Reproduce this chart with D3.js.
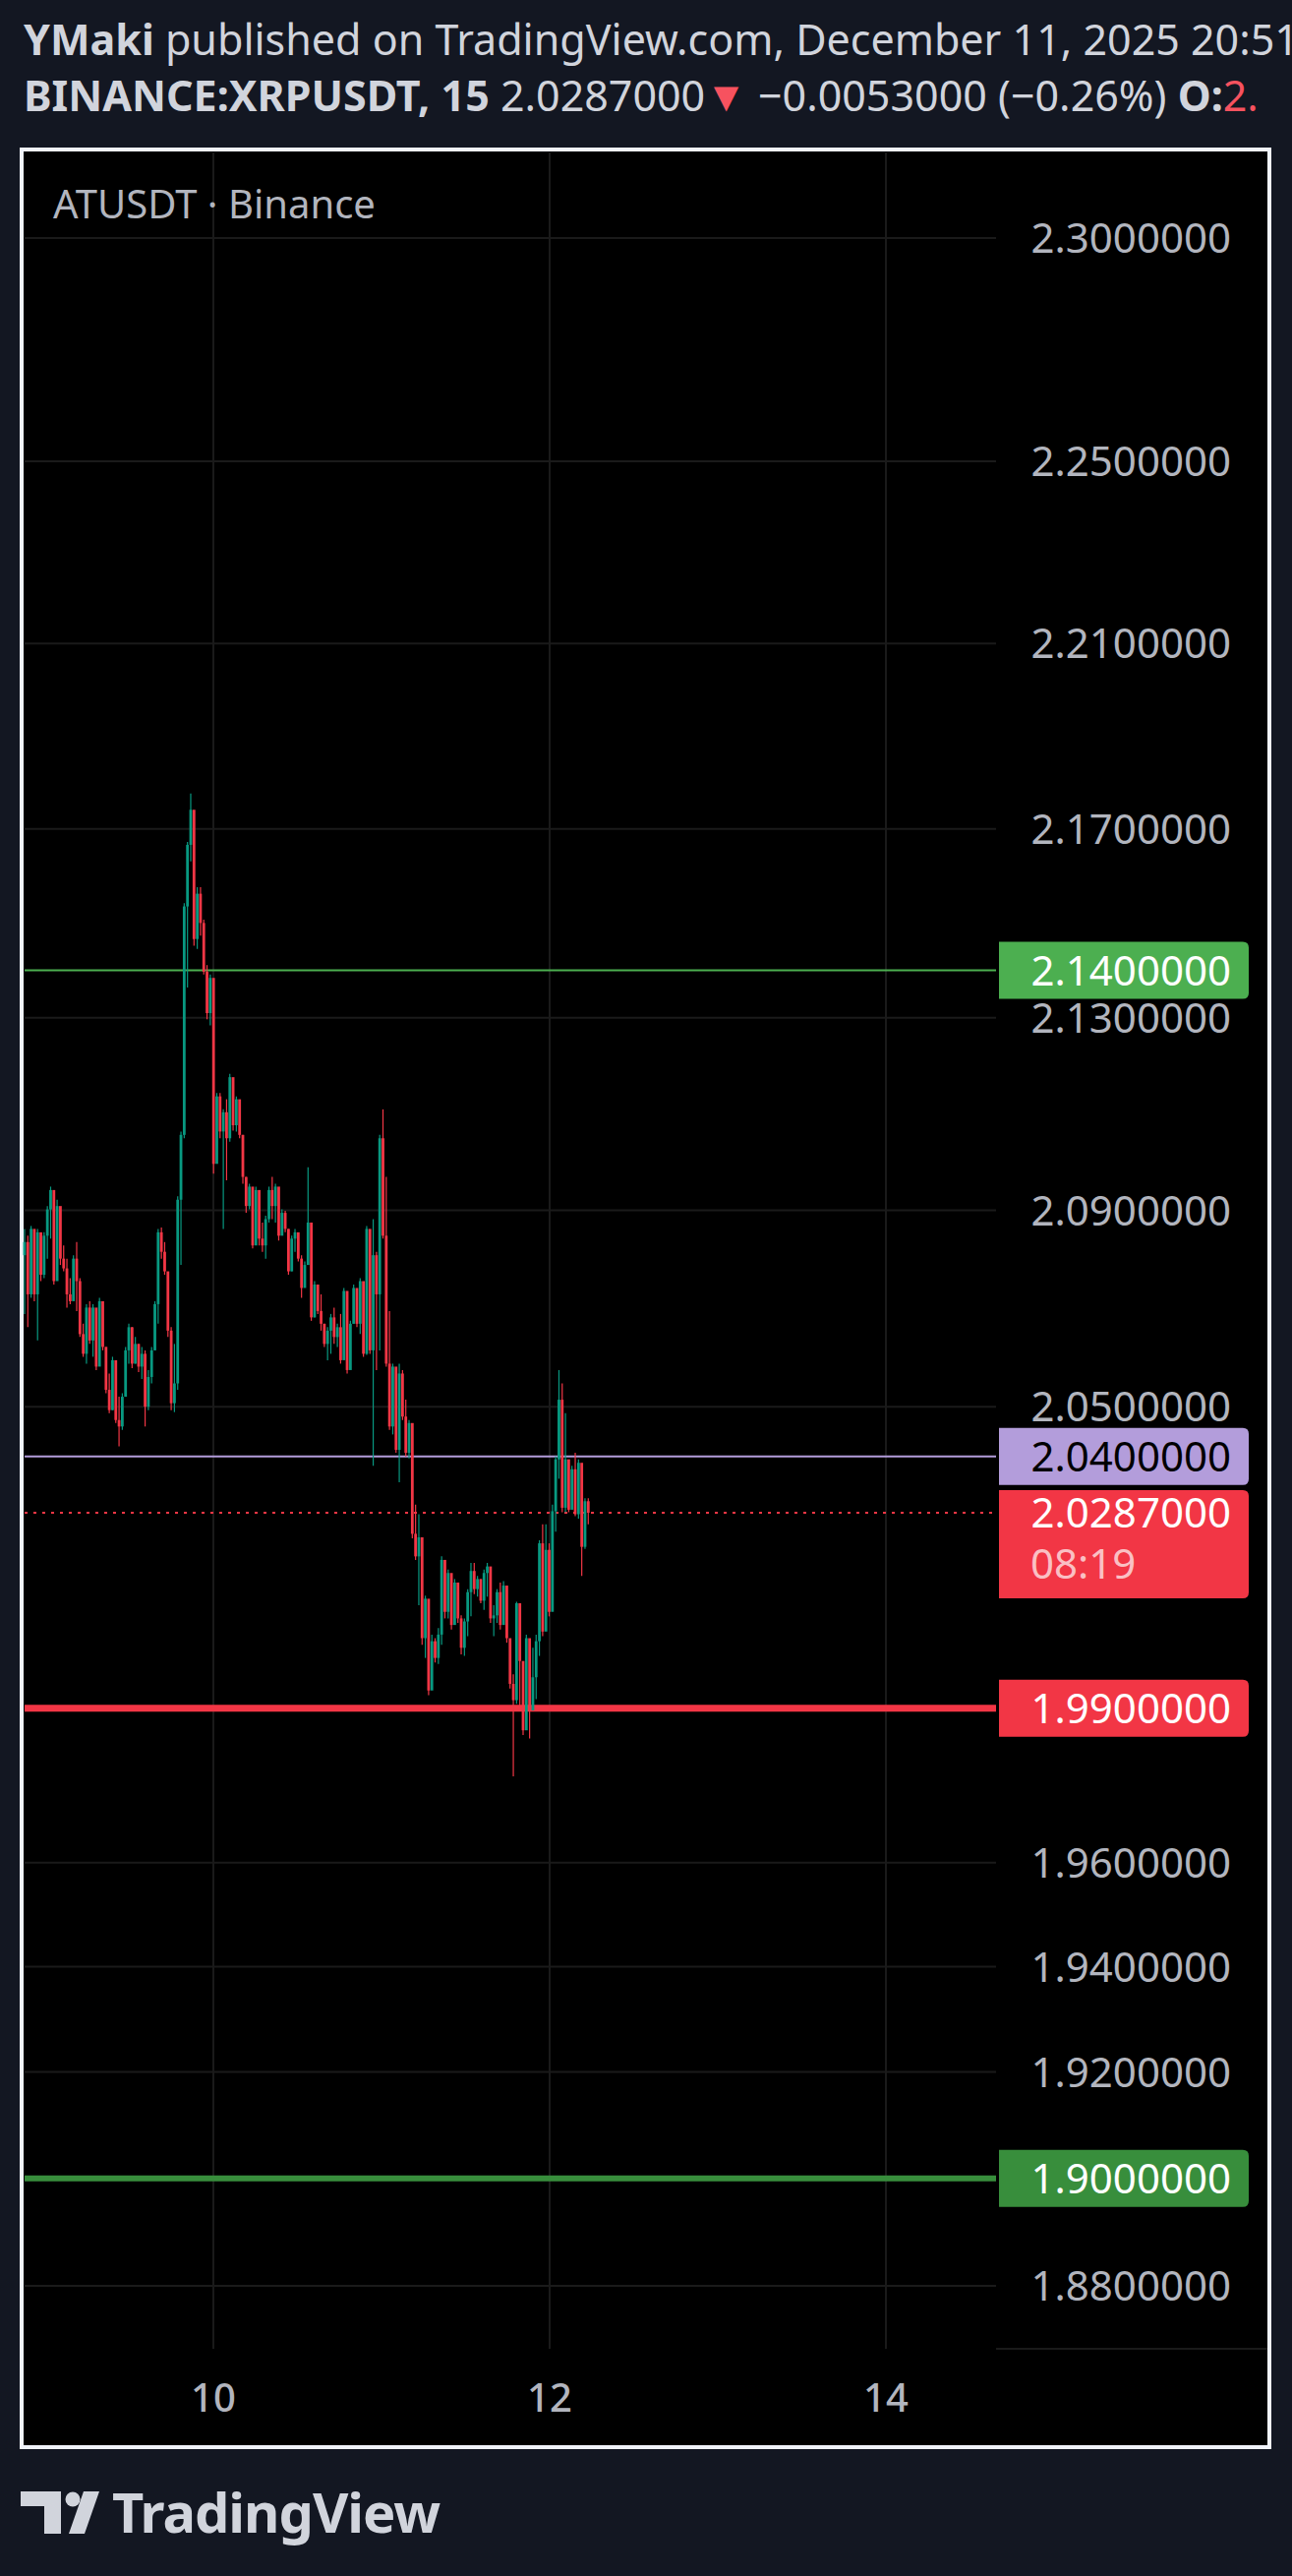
<!DOCTYPE html>
<html>
<head>
<meta charset="utf-8">
<script src="https://cdn.jsdelivr.net/npm/d3@7"></script>
<style>
body{margin:0;background:#131722;}
svg{display:block;font-family:"Noto Sans",sans-serif;}
</style>
</head>
<body>
<svg id="chart" width="1314" height="2619"></svg>
<script>
// 30-min-ish candles, open = previous close
var firstOpen=2.0808
var closes=[2.0835,2.0728,2.0862,2.0728,2.0855,2.0768,2.0848,2.0902,2.0942,2.0755,2.0909,2.0801,2.0781,2.0728,2.0714,2.0801,2.0755,2.0647,2.0607,2.0701,
2.0634,2.0701,2.0581,2.0714,2.0621,2.0534,2.0493,2.0594,2.0473,2.0460,2.0520,2.0614,2.0661,2.0587,2.0627,2.0581,2.0607,2.0500,2.0560,2.0614,
2.0708,2.0855,2.0815,2.0775,2.0654,2.0507,2.0547,2.0922,2.1056,2.1535,2.1666,2.1741,2.1466,2.1562,2.1500,2.1397,2.1310,2.1384,2.0996,2.1136,
2.1063,2.1103,2.1049,2.1176,2.1076,2.1130,2.1056,2.0969,2.0909,2.0949,2.0828,2.0942,2.0842,2.0828,2.0882,2.0942,2.0909,2.0949,2.0848,2.0895,
2.0862,2.0775,2.0842,2.0855,2.0801,2.0741,2.0788,2.0875,2.0681,2.0748,2.0694,2.0668,2.0627,2.0654,2.0681,2.0641,2.0661,2.0594,2.0735,2.0574,
2.0668,2.0741,2.0668,2.0755,2.0607,2.0862,2.0614,2.0808,2.0728,2.1049,2.0848,2.0587,2.0460,2.0581,2.0413,2.0567,2.0480,2.0407,2.0467,2.0245,
2.0200,2.0238,2.0038,2.0116,1.9935,2.0032,1.9999,2.0045,2.0193,2.0090,2.0167,2.0064,2.0148,2.0077,2.0019,2.0071,2.0129,2.0171,2.0135,2.0155,
2.0112,2.0167,2.0180,2.0077,2.0083,2.0129,2.0064,2.0142,2.0038,1.9948,1.9916,2.0107,1.9993,1.9857,2.0038,1.9896,1.9961,2.0032,2.0226,2.0051,
2.0213,2.0090,2.0290,2.0394,2.0514,2.0297,2.0394,2.0293,2.0374,2.0284,2.0387,2.0219,2.0310,2.0287]
var highs=[2.0862,2.0848,2.0868,2.0828,2.0862,2.0815,2.0855,2.0909,2.0949,2.0929,2.0922,2.0902,2.0828,2.0801,2.0761,2.0808,2.0835,2.0761,2.0668,2.0708,
2.0714,2.0708,2.0654,2.0721,2.0681,2.0621,2.0567,2.0601,2.0594,2.0520,2.0527,2.0621,2.0668,2.0661,2.0641,2.0627,2.0621,2.0614,2.0574,2.0621,
2.0714,2.0862,2.0865,2.0835,2.0761,2.0661,2.0627,2.0929,2.1063,2.1542,2.1672,2.1776,2.1734,2.1576,2.1576,2.1507,2.1411,2.1391,2.1310,2.1143,
2.1143,2.1109,2.1130,2.1183,2.1143,2.1136,2.1109,2.1056,2.0969,2.0955,2.0942,2.0949,2.0889,2.0875,2.0889,2.0949,2.0969,2.0955,2.0922,2.0902,
2.0899,2.0862,2.0848,2.0862,2.0848,2.0808,2.0795,2.0989,2.0875,2.0755,2.0741,2.0728,2.0668,2.0661,2.0688,2.0701,2.0668,2.0688,2.0741,2.0714,
2.0674,2.0748,2.0728,2.0761,2.0688,2.0868,2.0768,2.0882,2.0815,2.1056,2.1109,2.0969,2.0694,2.0587,2.0560,2.0587,2.0574,2.0514,2.0473,2.0433,
2.0303,2.0284,2.0148,2.0122,2.0064,2.0045,2.0038,2.0058,2.0200,2.0148,2.0174,2.0155,2.0155,2.0148,2.0083,2.0077,2.0135,2.0187,2.0187,2.0161,
2.0155,2.0174,2.0187,2.0129,2.0103,2.0135,2.0148,2.0151,2.0103,2.0032,1.9967,2.0110,2.0019,1.9928,2.0045,1.9967,2.0019,2.0045,2.0232,2.0264,
2.0264,2.0226,2.0303,2.0400,2.0574,2.0547,2.0487,2.0355,2.0381,2.0407,2.0394,2.0335,2.0316,2.0316]
var lows=[2.0688,2.0661,2.0721,2.0714,2.0634,2.0755,2.0761,2.0801,2.0842,2.0748,2.0828,2.0788,2.0775,2.0701,2.0708,2.0721,2.0694,2.0641,2.0601,2.0587,
2.0627,2.0601,2.0574,2.0641,2.0614,2.0527,2.0487,2.0493,2.0467,2.0420,2.0453,2.0520,2.0587,2.0578,2.0587,2.0570,2.0556,2.0460,2.0493,2.0547,
2.0614,2.0668,2.0801,2.0768,2.0641,2.0493,2.0489,2.0534,2.0788,2.1049,2.1364,2.1631,2.1452,2.1445,2.1473,2.1391,2.1297,2.1284,2.0976,2.1029,
2.1049,2.0862,2.0962,2.1042,2.1065,2.1063,2.1049,2.0955,2.0895,2.0902,2.0822,2.0875,2.0828,2.0815,2.0801,2.0875,2.0882,2.0875,2.0838,2.0855,
2.0855,2.0768,2.0775,2.0815,2.0795,2.0721,2.0748,2.0862,2.0674,2.0681,2.0688,2.0654,2.0621,2.0594,2.0607,2.0627,2.0621,2.0587,2.0627,2.0567,
2.0634,2.0668,2.0661,2.0647,2.0601,2.0605,2.0607,2.0381,2.0574,2.0614,2.0842,2.0581,2.0453,2.0444,2.0407,2.0348,2.0473,2.0400,2.0396,2.0236,
2.0193,2.0103,2.0025,1.9999,1.9926,1.9948,1.9990,1.9987,2.0025,2.0077,2.0077,2.0055,2.0090,2.0068,2.0006,2.0003,2.0042,2.0081,2.0125,2.0120,
2.0107,2.0094,2.0120,2.0068,2.0042,2.0068,2.0055,2.0068,2.0029,1.9939,1.9767,1.9909,1.9900,1.9848,1.9887,1.9841,1.9909,1.9918,2.0003,2.0042,
2.0081,2.0081,2.0193,2.0249,2.0355,2.0288,2.0288,2.0288,2.0316,2.0280,2.0275,2.0161,2.0215,2.0264]
var startDay=8.877, stepDay=0.01938
var priceTicks=[2.30,2.25,2.21,2.17,2.13,2.09,2.05,1.96,1.94,1.92,1.88]
var dayTicks=[10,12,14]
var levels=[
  {p:2.14,color:"#4caf50",w:2,text:"#ffffff"},
  {p:2.04,color:"#b39ddb",w:2,text:"#000000"},
  {p:1.99,color:"#f23645",w:7,text:"#ffffff"},
  {p:1.90,color:"#388e3c",w:6,text:"#ffffff"}
]
var lastPrice=2.0287, countdown="08:19"

var svg=d3.select("#chart")
var plotLeft=25,plotRight=1013,plotTop=155,plotBottom=2388
var x=d3.scaleLinear().domain([10,12]).range([217,559])
var y=d3.scaleLog().domain([2.30,1.88]).range([242,2324])

// header
var h1=svg.append("text").attr("x",24).attr("y",56).attr("font-size",43).attr("fill","#d1d4dc")
h1.append("tspan").attr("font-weight","bold").text("YMaki")
h1.append("tspan").text(" published on TradingView.com, December 11, 2025 20:51:")
var h2=svg.append("text").attr("x",24).attr("y",113).attr("font-size",43).attr("fill","#d1d4dc")
h2.append("tspan").attr("font-weight","bold").text("BINANCE:XRPUSDT, 15 ")
h2.append("tspan").text(" 2.0287000")
h2.append("tspan").attr("fill","#f7525f").text("▼")
h2.append("tspan").text(" −0.0053000 (−0.26%) ")
h2.append("tspan").attr("font-weight","bold").text("O:")
h2.append("tspan").attr("fill","#f7525f").text("2.")

// frame
svg.append("rect").attr("x",22).attr("y",152).attr("width",1269).attr("height",2336)
  .attr("fill","#000").attr("stroke","#f0f3fa").attr("stroke-width",4)

// grid
svg.selectAll(".hg").data(priceTicks).enter().append("line")
  .attr("x1",plotLeft).attr("x2",plotRight).attr("y1",function(d){return y(d)}).attr("y2",function(d){return y(d)})
  .attr("stroke","#1a1a1a").attr("stroke-width",2)
svg.selectAll(".vg").data(dayTicks).enter().append("line")
  .attr("x1",function(d){return x(d)}).attr("x2",function(d){return x(d)}).attr("y1",plotTop).attr("y2",plotBottom)
  .attr("stroke","#1a1a1a").attr("stroke-width",2)
svg.append("line").attr("x1",plotRight).attr("x2",1289).attr("y1",plotBottom).attr("y2",plotBottom).attr("stroke","#1a1a1a").attr("stroke-width",2)

// axes labels
svg.selectAll(".pt").data(priceTicks).enter().append("text")
  .attr("x",1252).attr("y",function(d){return y(d)+15}).attr("text-anchor","end")
  .attr("font-size",42).attr("fill","#b2b5be").text(function(d){return d.toFixed(7)})
svg.selectAll(".dt").data(dayTicks).enter().append("text")
  .attr("x",function(d){return x(d)}).attr("y",2452).attr("text-anchor","middle")
  .attr("font-size",40).attr("font-weight",500).attr("fill","#b2b5be").text(function(d){return d})

svg.append("text").attr("x",54).attr("y",222).attr("font-size",40).attr("fill","#b2b5be").text("ATUSDT · Binance")

// level lines
svg.selectAll(".lv").data(levels).enter().append("line")
  .attr("x1",plotLeft).attr("x2",plotRight).attr("y1",function(d){return y(d.p)}).attr("y2",function(d){return y(d.p)})
  .attr("stroke",function(d){return d.color}).attr("stroke-width",function(d){return d.w})
svg.append("line").attr("x1",plotLeft).attr("x2",plotRight).attr("y1",y(lastPrice)).attr("y2",y(lastPrice))
  .attr("stroke","#f23645").attr("stroke-width",2).attr("stroke-dasharray","3,6")

// candles
var candles=closes.map(function(c,i){
  return {t:startDay+i*stepDay,o:i==0?firstOpen:closes[i-1],c:c,h:highs[i],l:lows[i]}
})
var g=svg.append("g")
g.selectAll(".wick").data(candles).enter().append("line")
  .attr("x1",function(d){return x(d.t)}).attr("x2",function(d){return x(d.t)})
  .attr("y1",function(d){return y(d.h)}).attr("y2",function(d){return y(d.l)})
  .attr("stroke",function(d){return d.c>=d.o?"#089981":"#f23645"}).attr("stroke-width",1.2)
g.selectAll(".body").data(candles).enter().append("rect")
  .attr("x",function(d){return x(d.t)-1.4}).attr("width",2.8)
  .attr("y",function(d){return y(Math.max(d.o,d.c))})
  .attr("height",function(d){return Math.max(1.5,y(Math.min(d.o,d.c))-y(Math.max(d.o,d.c)))})
  .attr("fill",function(d){return d.c>=d.o?"#089981":"#f23645"})

// price label boxes
var boxPath=function(x0,y0,w,h){
  var r=6
  return "M"+x0+","+y0+"H"+(x0+w-r)+"Q"+(x0+w)+","+y0+" "+(x0+w)+","+(y0+r)+"V"+(y0+h-r)+"Q"+(x0+w)+","+(y0+h)+" "+(x0+w-r)+","+(y0+h)+"H"+x0+"Z"
}
levels.forEach(function(d){
  var cy=y(d.p)
  svg.append("path").attr("d",boxPath(1016,cy-29,254,58)).attr("fill",d.color)
  svg.append("text").attr("x",1252).attr("y",cy+15).attr("text-anchor","end").attr("font-size",42)
    .attr("fill",d.text).text(d.p.toFixed(7))
})
var ly=y(lastPrice)
svg.append("path").attr("d",boxPath(1016,ly-23,254,110)).attr("fill","#f23645")
svg.append("text").attr("x",1252).attr("y",ly+15).attr("text-anchor","end").attr("font-size",42).attr("fill","#fff").text(lastPrice.toFixed(7))
svg.append("text").attr("x",1048).attr("y",ly+67).attr("font-size",42).attr("fill","#ffffff").attr("fill-opacity",0.7).text(countdown)

// footer logo
var logo=svg.append("g").attr("fill","#d1d4dc")
logo.append("path").attr("d","M21,2533H62V2576H45V2548H21Z")
logo.append("circle").attr("cx",74).attr("cy",2541).attr("r",7.5)
logo.append("path").attr("d","M85,2533H101L86,2576H70Z")
svg.append("text").attr("x",114).attr("y",2575).attr("font-size",56).attr("font-weight","bold")
  .attr("fill","#d1d4dc").attr("letter-spacing",-1).text("TradingView")
</script>
</body>
</html>
